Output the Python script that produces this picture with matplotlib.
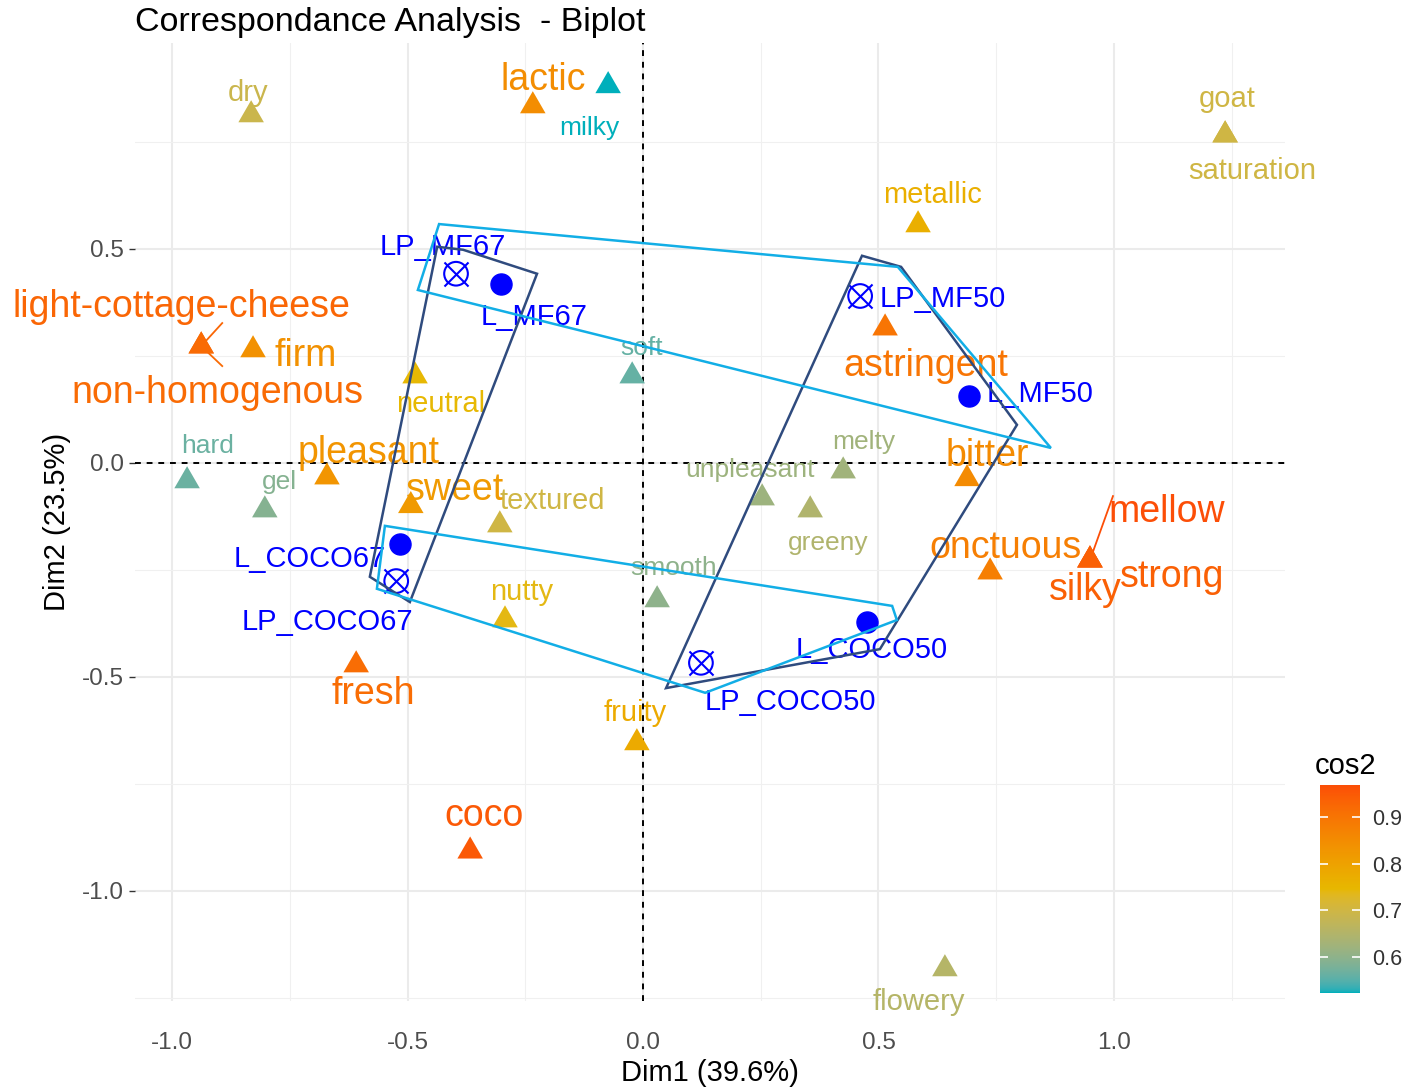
import numpy as np
import matplotlib
matplotlib.use("Agg")
import matplotlib.pyplot as plt
from matplotlib.colors import ListedColormap, Normalize

plt.rcParams['font.family'] = ['Liberation Sans', 'DejaVu Sans']

# ---------------- data ----------------
col_names = ["dry", "lactic", "milky", "goat", "saturation", "metallic", "astringent",
             "light-cottage-cheese", "non-homogenous", "firm", "neutral", "soft", "hard",
             "gel", "pleasant", "sweet", "textured", "unpleasant", "melty", "greeny",
             "bitter", "onctuous", "mellow", "silky", "strong", "smooth", "nutty",
             "fresh", "fruity", "coco", "flowery"]
col_dim1 = [-0.832, -0.234, -0.074, 1.236, 1.236, 0.584, 0.514,
            -0.938, -0.938, -0.828, -0.484, -0.023, -0.968,
            -0.803, -0.671, -0.493, -0.304, 0.253, 0.425, 0.355,
            0.688, 0.737, 0.949, 0.949, 0.949, 0.030, -0.293,
            -0.609, -0.013, -0.367, 0.641]
col_dim2 = [0.813, 0.834, 0.881, 0.766, 0.766, 0.556, 0.315,
            0.273, 0.273, 0.264, 0.203, 0.203, -0.042,
            -0.110, -0.033, -0.100, -0.145, -0.082, -0.019, -0.110,
            -0.037, -0.255, -0.227, -0.227, -0.227, -0.320, -0.367,
            -0.472, -0.654, -0.907, -1.182]
col_cos2 = [0.69, 0.85, 0.523, 0.70, 0.70, 0.77, 0.90,
            0.93, 0.92, 0.84, 0.745, 0.56, 0.565,
            0.59, 0.83, 0.82, 0.70, 0.62, 0.625, 0.645,
            0.855, 0.88, 0.969, 0.94, 0.94, 0.60, 0.74,
            0.915, 0.78, 0.95, 0.655]

row_names = ["LP_MF67", "L_MF67", "LP_MF50", "L_MF50",
             "L_COCO67", "LP_COCO67", "L_COCO50", "LP_COCO50"]
row_dim1 = [-0.397, -0.301, 0.461, 0.692, -0.516, -0.524, 0.476, 0.123]
row_dim2 = [0.442, 0.418, 0.390, 0.157, -0.189, -0.276, -0.371, -0.467]

# group outlines (dark: product groups 67 / 50 ; light: MF / COCO)
hull67_x = [-0.437, -0.382, -0.225, -0.495, -0.580]
hull67_y = [0.505, 0.498, 0.442, -0.325, -0.266]
hull50_x = [0.465, 0.548, 0.794, 0.503, 0.049]
hull50_y = [0.484, 0.458, 0.089, -0.435, -0.526]
hullMF_x = [-0.433, 0.541, 0.866, -0.478]
hullMF_y = [0.558, 0.458, 0.035, 0.404]
hullCOCO_x = [-0.548, 0.529, 0.539, 0.132, -0.565]
hullCOCO_y = [-0.147, -0.334, -0.367, -0.537, -0.294]

x_ticks = [-1.0, -0.5, 0.0, 0.5, 1.0]
x_tick_labels = ["-1.0", "-0.5", "0.0", "0.5", "1.0"]
y_ticks = [-1.0, -0.5, 0.0, 0.5]
y_tick_labels = ["-1.0", "-0.5", "0.0", "0.5"]
cb_ticks = [0.6, 0.7, 0.8, 0.9]

# ---------------- layout (label offsets in pixels) ----------------
col_label_off = {
    "dry": (-3, 24), "lactic": (10, 28), "milky": (-19, -40), "goat": (2, 38),
    "saturation": (27, -34), "metallic": (14, 32), "astringent": (41, -36),
    "light-cottage-cheese": (-20, 41), "non-homogenous": (16, -45), "firm": (53, -4),
    "neutral": (26, -26), "soft": (9, 30), "hard": (20, 37), "gel": (15, 30),
    "pleasant": (42, 26), "sweet": (44, 18), "textured": (52, 26),
    "unpleasant": (-12, 30), "melty": (21, 31), "greeny": (18, -31),
    "bitter": (20, 25), "onctuous": (15, 26), "mellow": (77, 50), "silky": (-5, -28),
    "strong": (82, -15), "smooth": (16, 34), "nutty": (17, 30), "fresh": (17, -27),
    "fruity": (-2, 32), "coco": (14, 37), "flowery": (-26, -31)}
col_segments = {"light-cottage-cheese": (21, 23), "non-homogenous": (21, -20),
                "mellow": (23, 64)}
row_label_off = {"LP_MF67": (-13, 29), "L_MF67": (33, -31), "LP_MF50": (83, -1),
                 "L_MF50": (71, 4), "L_COCO67": (-90, -13), "LP_COCO67": (-69, -39),
                 "L_COCO50": (4, -26), "LP_COCO50": (89, -37)}
TEXT_DY = -2


# ---------------- colour scale (Lab interpolation like ggplot) ----------------
def _hex2rgb(h):
    h = h.lstrip('#')
    return np.array([int(h[i:i + 2], 16) / 255 for i in (0, 2, 4)])

_M = np.array([[0.4124564, 0.3575761, 0.1804375],
               [0.2126729, 0.7151522, 0.0721750],
               [0.0193339, 0.1191920, 0.9503041]])
_W = np.array([0.95047, 1.0, 1.08883])
_d = 6 / 29


def rgb2lab(rgb):
    c = np.where(rgb <= 0.04045, rgb / 12.92, ((rgb + 0.055) / 1.055) ** 2.4)
    t = (_M @ c) / _W
    f = np.where(t > _d ** 3, np.cbrt(t), t / (3 * _d ** 2) + 4 / 29)
    return np.array([116 * f[1] - 16, 500 * (f[0] - f[1]), 200 * (f[1] - f[2])])


def lab2rgb(lab):
    fy = (lab[0] + 16) / 116
    fx = fy + lab[1] / 500
    fz = fy - lab[2] / 200
    f = np.array([fx, fy, fz])
    t = np.where(f > _d, f ** 3, 3 * _d ** 2 * (f - 4 / 29)) * _W
    c = np.linalg.solve(_M, t)
    c = np.where(c <= 0.0031308, 12.92 * c, 1.055 * np.clip(c, 0, None) ** (1 / 2.4) - 0.055)
    return np.clip(c, 0, 1)


grad_cols = ["#00AFBB", "#E7B800", "#FC4E07"]
labs = [rgb2lab(_hex2rgb(h)) for h in grad_cols]
samples = []
for t in np.linspace(0, 1, 256):
    seg = min(int(t * 2), 1)
    u = t * 2 - seg
    samples.append(lab2rgb(labs[seg] * (1 - u) + labs[seg + 1] * u))
cmap = ListedColormap(samples)
vmin, vmax = min(col_cos2), max(col_cos2)
norm = Normalize(vmin, vmax)


def label_size(c):
    if c < 0.652:
        return 19
    if c < 0.80:
        return 21
    return 27


# ---------------- figure ----------------
W, H = 1409, 1088
fig = plt.figure(figsize=(W / 100, H / 100), dpi=100)
ax = fig.add_axes([135 / W, 87 / H, 1150 / W, 958 / H])
ax.set_xlim(-1.0786, 1.3631)
ax.set_ylim(-1.257, 0.981)

for s in ax.spines.values():
    s.set_visible(False)
ax.set_xticks(x_ticks)
ax.set_xticklabels(x_tick_labels)
ax.set_yticks(y_ticks)
ax.set_yticklabels(y_tick_labels)
ax.set_xticks([-0.75, -0.25, 0.25, 0.75, 1.25], minor=True)
ax.set_yticks([-1.25, -0.75, -0.25, 0.25, 0.75], minor=True)
ax.grid(which='major', color='#EBEBEB', lw=1.5)
ax.grid(which='minor', color='#F0F0F0', lw=0.8)
ax.tick_params(which='major', length=4, width=1, color='#333333', labelsize=17.5,
               labelcolor='#4D4D4D')
ax.tick_params(axis='y', pad=4)
ax.tick_params(axis='x', length=0, pad=22)
ax.tick_params(which='minor', length=0)
ax.set_axisbelow(True)

ax.axhline(0, color='black', lw=1.4, ls=(0, (3, 3)), zorder=1)
ax.axvline(0, color='black', lw=1.4, ls=(0, (3, 3)), zorder=1)

ax.set_xlabel("Dim1 (39.6%)", fontsize=21, labelpad=4)
ax.set_ylabel("Dim2 (23.5%)", fontsize=21, labelpad=8)

# row points
for n, x, y in zip(row_names, row_dim1, row_dim2):
    if n.startswith("LP_"):
        ax.scatter([x], [y], s=290, marker='o', facecolors='none', edgecolors='#0000FF',
                   linewidths=1.5, zorder=3)
        ax.scatter([x], [y], s=300, marker='x', color='#0000FF', linewidths=1.5, zorder=3)
    else:
        ax.scatter([x], [y], s=230, marker='o', color='#0000FF', zorder=3)
    dx, dy = row_label_off[n]
    ax.annotate(n, (x, y), xytext=(dx, dy + TEXT_DY), textcoords='offset pixels',
                ha='center', va='center', fontsize=21, color='#0000FF', zorder=4)

# column points
tri = [(0, 1), (-0.866, -0.5), (0.866, -0.5)]
cols = cmap(norm(np.array(col_cos2)))
for n, x, y, c, cc in zip(col_names, col_dim1, col_dim2, col_cos2, cols):
    if n in col_segments:
        sx, sy = col_segments[n]
        p = ax.transData.transform((x, y)) + np.array([sx, sy])
        e = ax.transData.inverted().transform(p)
        ax.plot([x, e[0]], [y, e[1]], color=cc, lw=1.3, zorder=4)
ax.scatter(col_dim1, col_dim2, c=col_cos2, cmap=cmap, norm=norm, marker=tri, s=450,
           linewidths=0, zorder=5)
for n, x, y, c, cc in zip(col_names, col_dim1, col_dim2, col_cos2, cols):
    dx, dy = col_label_off[n]
    ax.annotate(n, (x, y), xytext=(dx, dy + TEXT_DY), textcoords='offset pixels',
                ha='center', va='center', fontsize=label_size(c), color=cc, zorder=6)

# group outlines
for hx, hy, col in [(hull67_x, hull67_y, '#2F4B7E'), (hull50_x, hull50_y, '#2F4B7E'),
                    (hullMF_x, hullMF_y, '#12AEE6'), (hullCOCO_x, hullCOCO_y, '#12AEE6')]:
    ax.fill(hx, hy, facecolor='none', edgecolor=col, lw=1.8, zorder=7)

# title
fig.text(135 / W, 1 - 23 / H, "Correspondance Analysis  - Biplot", fontsize=24.5,
         ha='left', va='center')

# colour bar
cax = fig.add_axes([1320 / W, (H - 993) / H, 40 / W, 208 / H])
cax.imshow(np.linspace(vmin, vmax, 256)[:, None], aspect='auto', cmap=cmap, norm=norm,
           origin='lower', extent=[0, 1, vmin, vmax])
cax.set_xlim(0, 1)
cax.set_ylim(vmin, vmax)
for s in cax.spines.values():
    s.set_visible(False)
cax.hlines(cb_ticks, 0, 0.2, color='white', lw=1.2)
cax.hlines(cb_ticks, 0.8, 1, color='white', lw=1.2)
cax.set_xticks([])
cax.yaxis.tick_right()
cax.set_yticks(cb_ticks)
cax.set_yticklabels([f"{t:.1f}" for t in cb_ticks])
cax.tick_params(axis='y', length=0, pad=9, labelsize=15.5, labelcolor='#333333')
fig.text(1315 / W, 1 - 766 / H, "cos2", fontsize=21, ha='left', va='center')

fig.savefig("out.png", dpi=100)
